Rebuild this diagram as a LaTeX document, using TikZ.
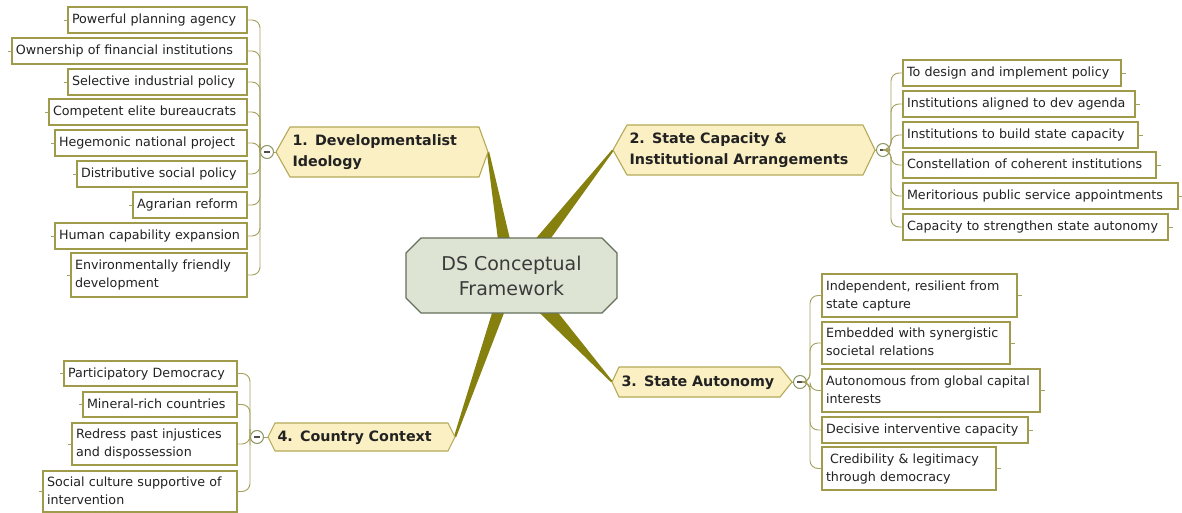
\documentclass[tikz,border=0pt]{standalone}
\usepackage{fontspec}
\setmainfont{DejaVu Sans}
\usetikzlibrary{calc,backgrounds}
\definecolor{boxc}{RGB}{160,155,75}
\definecolor{connc}{RGB}{165,160,95}
\definecolor{mfill}{RGB}{250,240,196}
\definecolor{mdraw}{RGB}{180,170,88}
\definecolor{dsfill}{RGB}{222,228,212}
\definecolor{dsdraw}{RGB}{100,112,90}
\definecolor{branchc}{RGB}{134,128,14}
\definecolor{collc}{RGB}{140,150,100}
\definecolor{txt}{RGB}{34,34,34}
\definecolor{dstxt}{RGB}{58,58,58}
\newcommand\cf{\fontsize{12.7}{18}\selectfont}
\newcommand\mf{\fontsize{14.3}{21}\selectfont\bfseries}
\newcommand\dsf{\fontsize{19}{25}\selectfont}
\newcommand\oneln[1]{\mbox{#1}}
\hyphenpenalty=10000
\exhyphenpenalty=10000
\begin{document}
\begin{tikzpicture}[x=1pt,y=-1pt,
  cbox/.style={draw=boxc, line width=1.2pt, fill=white, inner xsep=4pt, inner ysep=0pt, outer sep=0pt,
    align=left, font=\cf, text=txt, execute at begin node=\strut, execute at end node=\strut},
  mtext/.style={inner xsep=2.5pt, inner ysep=0pt, outer sep=0pt, align=left, font=\mf, text=txt,
    execute at begin node=\strut, execute at end node=\strut},
  dstext/.style={inner sep=0pt, outer sep=0pt, align=center, font=\dsf, text=dstxt},
  mshape/.style={fill=mfill, draw=mdraw, line width=1.1pt, line join=round},
  dsshape/.style={fill=dsfill, draw=dsdraw, line width=1.2pt, line join=round},
  branch/.style={fill=branchc},
  conn/.style={draw=connc, line width=0.9pt},
  coll/.style={circle, draw=collc, fill=white, line width=1pt, minimum size=13pt, inner sep=0pt},
  minus/.style={draw=txt!80, line width=1.3pt}
]
\useasboundingbox (0,0) rectangle (1182,513);

% ---------- centre node ----------
\node[dstext, minimum width=211pt, minimum height=75pt] (ds) at (511.5,275.5) {DS Conceptual\\Framework};

% ---------- main nodes ----------
\node[mtext, text width=184pt, minimum height=50pt] (n1) at (384.5,152) {1. Developmentalist\\Ideology};
\coordinate (n1w) at ($(n1.west)+(-14,0)$);
\coordinate (n1e) at ($(n1.east)+(9,0)$);

\node[mtext, text width=231pt, minimum height=50pt] (n2) at (745,150) {2. State Capacity \&\\Institutional Arrangements};
\coordinate (n2w) at ($(n2.west)+(-14,0)$);
\coordinate (n2e) at ($(n2.east)+(12,0)$);

\node[mtext, text width=156pt, minimum height=30pt] (n3) at (699.5,382) {3. State Autonomy};
\coordinate (n3w) at ($(n3.west)+(-7,0)$);
\coordinate (n3e) at ($(n3.east)+(12,0)$);

\node[mtext, text width=168pt, minimum height=28pt] (n4) at (361.5,437) {4. Country Context};
\coordinate (n4w) at ($(n4.west)+(-7,0)$);
\coordinate (n4e) at ($(n4.east)+(7,0)$);

% branch bases (inside the centre node)
\coordinate (b1l) at (500.8,262);
\coordinate (b1r) at (515.4,262);
\coordinate (b2l) at (515.7,262);
\coordinate (b2r) at (533.8,262);
\coordinate (b3l) at (516,290);
\coordinate (b3r) at (540,290);
\coordinate (b4l) at (499.1,290);
\coordinate (b4r) at (512.9,290);

% ---------- collapse circles ----------
\node[coll] (c1) at (267,152) {};
\node[coll] (c2) at (883,150) {};
\node[coll] (c3) at (800,382) {};
\node[coll] (c4) at (257,437) {};
\foreach \c in {c1,c2,c3,c4} {\draw[minus] ($(\c)+(-3,0)$) -- ($(\c)+(3,0)$);}

\coordinate (s1) at (260,152);
\coordinate (s2) at (891,150);
\coordinate (s3) at (810,382);
\coordinate (s4) at (250,437);

\draw[conn] (n1w) -- (c1.east);
\draw[conn] (n2e) -- (c2.west);
\draw[conn] (n3e) -- (c3.west);
\draw[conn] (n4w) -- (c4.east);

% ---------- group 1 ----------
\node[cbox, anchor=north east, text width=171pt, minimum height=26pt] (a1) at (247,7) {\oneln{Powerful planning agency}};
\node[cbox, anchor=north east, text width=227pt, minimum height=26pt] (a2) at (247,38) {\oneln{Ownership of financial institutions}};
\node[cbox, anchor=north east, text width=171pt, minimum height=26pt] (a3) at (247,69) {\oneln{Selective industrial policy}};
\node[cbox, anchor=north east, text width=190pt, minimum height=26pt] (a4) at (247,99) {\oneln{Competent elite bureaucrats}};
\node[cbox, anchor=north east, text width=184pt, minimum height=26pt] (a5) at (247,130) {\oneln{Hegemonic national project}};
\node[cbox, anchor=north east, text width=162pt, minimum height=26pt] (a6) at (247,161) {\oneln{Distributive social policy}};
\node[cbox, anchor=north east, text width=106pt, minimum height=26pt] (a7) at (247,192) {\oneln{Agrarian reform}};
\node[cbox, anchor=north east, text width=184pt, minimum height=26pt] (a8) at (247,223) {\oneln{Human capability expansion}};
\node[cbox, anchor=north east, text width=168pt, minimum height=44pt] (a9) at (247,253) {\oneln{Environmentally friendly}\\\oneln{development}};
\foreach \k in {a1,a2,a3,a4,a5,a6,a7,a8,a9} {
  \draw[conn, rounded corners=8pt] (c1.west) -- (s1) |- (\k.east);
  \draw[conn] (\k.west) -- ++(-4,0);
}

% ---------- group 2 ----------
\node[cbox, anchor=north west, text width=210pt, minimum height=26pt] (b1) at (903,60) {\oneln{To design and implement policy}};
\node[cbox, anchor=north west, text width=224pt, minimum height=26pt] (b2) at (903,91) {\oneln{Institutions aligned to dev agenda}};
\node[cbox, anchor=north west, text width=227pt, minimum height=26pt] (b3) at (903,122) {\oneln{Institutions to build state capacity}};
\node[cbox, anchor=north west, text width=245pt, minimum height=26pt] (b4) at (903,152) {\oneln{Constellation of coherent institutions}};
\node[cbox, anchor=north west, text width=267pt, minimum height=26pt] (b5) at (903,183) {\oneln{Meritorious public service appointments}};
\node[cbox, anchor=north west, text width=257pt, minimum height=26pt] (b6) at (903,214) {\oneln{Capacity to strengthen state autonomy}};
\foreach \k in {b1,b2,b3,b4,b5,b6} {
  \draw[conn, rounded corners=8pt] (c2.east) -- (s2) |- (\k.west);
  \draw[conn] (\k.east) -- ++(5,0);
}

% ---------- group 3 ----------
\node[cbox, anchor=north west, text width=187pt, minimum height=43pt] (d1) at (822,274) {\oneln{Independent, resilient from}\\\oneln{state capture}};
\node[cbox, anchor=north west, text width=180pt, minimum height=42pt] (d2) at (822,322) {\oneln{Embedded with synergistic}\\\oneln{societal relations}};
\node[cbox, anchor=north west, text width=210pt, minimum height=43pt] (d3) at (822,369) {\oneln{Autonomous from global capital}\\\oneln{interests}};
\node[cbox, anchor=north west, text width=198pt, minimum height=26pt] (d4) at (822,417) {\oneln{Decisive interventive capacity}};
\node[cbox, anchor=north west, text width=166pt, minimum height=43pt] (d5) at (822,447) {\oneln{\hspace{4pt}Credibility \& legitimacy}\\\oneln{through democracy}};
\foreach \k in {d1,d2,d3,d4,d5} {
  \draw[conn, rounded corners=8pt] (c3.east) -- (s3) |- (\k.west);
  \draw[conn] (\k.east) -- ++(5,0);
}

% ---------- group 4 ----------
\node[cbox, anchor=north east, text width=165pt, minimum height=25pt] (e1) at (237,361) {\oneln{Participatory Democracy}};
\node[cbox, anchor=north east, text width=146pt, minimum height=25pt] (e2) at (237,392) {\oneln{Mineral-rich countries}};
\node[cbox, anchor=north east, text width=157pt, minimum height=42pt] (e3) at (237,423) {\oneln{Redress past injustices}\\\oneln{and dispossession}};
\node[cbox, anchor=north east, text width=186pt, minimum height=41pt] (e4) at (237,471) {\oneln{Social culture supportive of}\\\oneln{intervention}};
\foreach \k in {e1,e2,e3,e4} {
  \draw[conn, rounded corners=8pt] (c4.west) -- (s4) |- (\k.east);
  \draw[conn] (\k.west) -- ++(-4,0);
}

% ---------- background: page, branches and node shapes ----------
\begin{pgfonlayer}{background}
\fill[white] (0,0) rectangle (1182,513);
\fill[branch] ($(n1e)+(-1.2,0)$) -- ($(n1e)+(1.2,0)$) -- (b1r) -- (b1l) -- cycle;
\fill[branch] ($(n2w)+(-1.2,0)$) -- ($(n2w)+(1.2,0)$) -- (b2r) -- (b2l) -- cycle;
\fill[branch] ($(n3w)+(-1.2,0)$) -- ($(n3w)+(1.2,0)$) -- (b3r) -- (b3l) -- cycle;
\fill[branch] ($(n4e)+(-1.2,0)$) -- ($(n4e)+(1.2,0)$) -- (b4r) -- (b4l) -- cycle;
\foreach \n in {n1,n2,n3,n4} {
  \path[mshape] (\n.north west) -- (\n.north east) -- (\n e) -- (\n.south east) -- (\n.south west) -- (\n w) -- cycle;
}
\path[dsshape] ($(ds.north west)+(15,0)$) -- ($(ds.north east)+(-15,0)$) -- ($(ds.north east)+(0,15)$)
  -- ($(ds.south east)+(0,-15)$) -- ($(ds.south east)+(-15,0)$) -- ($(ds.south west)+(15,0)$)
  -- ($(ds.south west)+(0,-15)$) -- ($(ds.north west)+(0,15)$) -- cycle;
\end{pgfonlayer}
\end{tikzpicture}
\end{document}
